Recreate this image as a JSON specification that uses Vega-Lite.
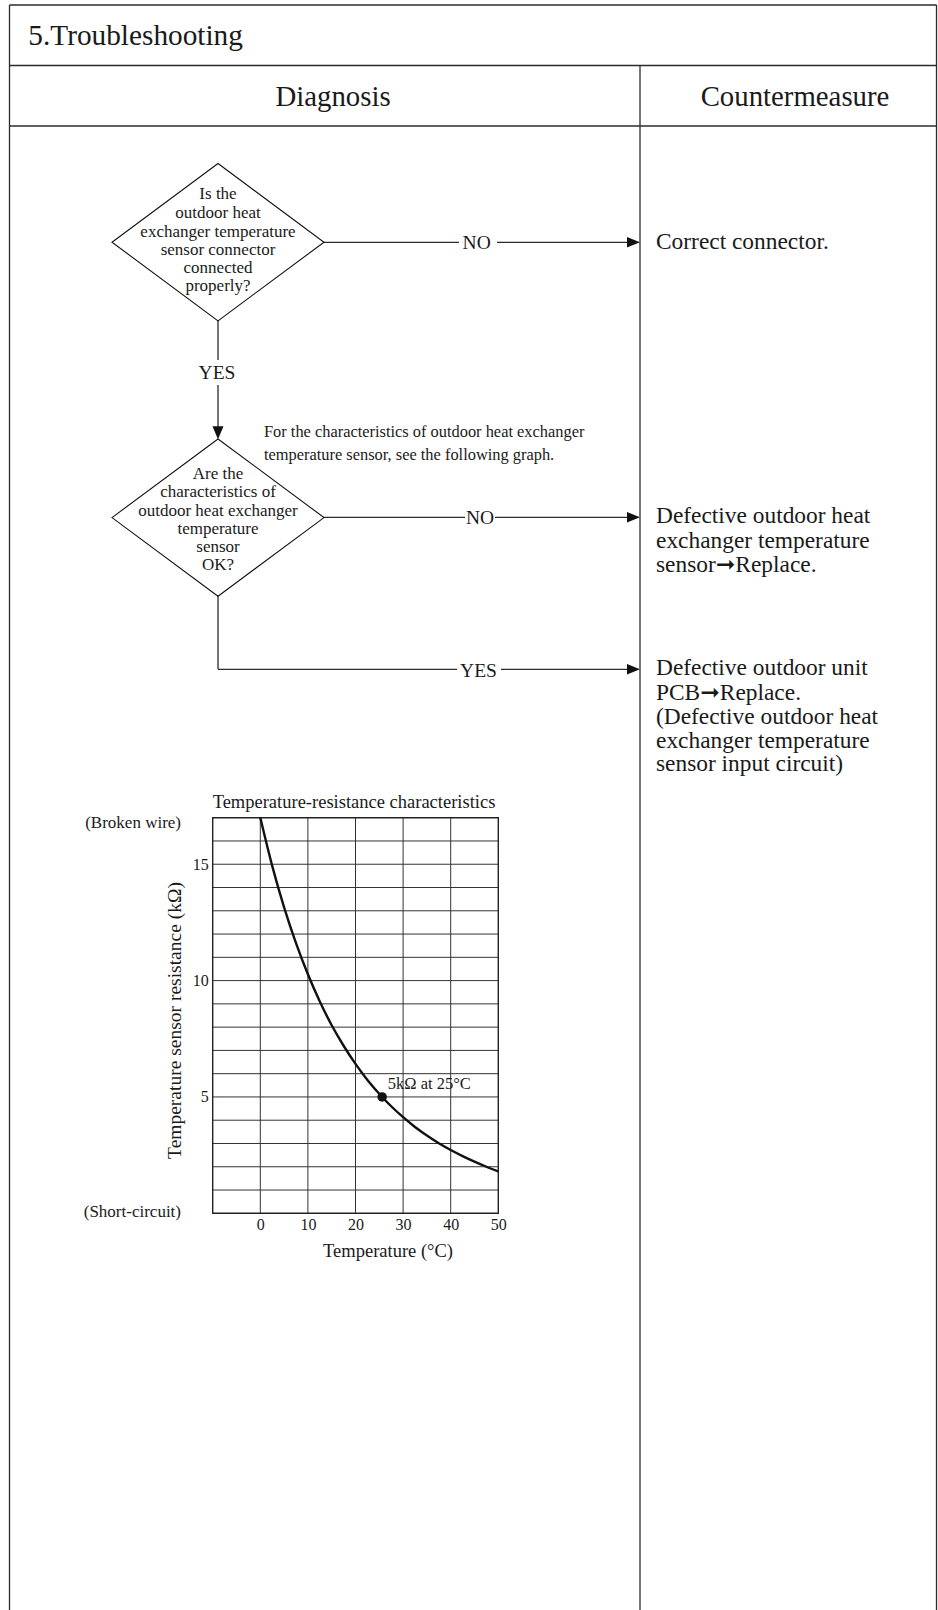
{
  "$schema": "https://vega.github.io/schema/vega-lite/v6.json",
  "width": 938,
  "height": 1610,
  "autosize": "none",
  "padding": 0,
  "background": "white",
  "config": {
    "view": {"stroke": null},
    "font": "Liberation Serif",
    "axis": {"labelFont": "Liberation Serif", "labelFontSize": 16, "labelColor": "#1a1a1a", "titleFont": "Liberation Serif", "titleFontWeight": "normal", "titleColor": "#1a1a1a"}
  },
  "datasets": {
    "rules": [
      {"x": 9.5, "x2": 936.5, "y": 5, "y2": 5},
      {"x": 9.5, "x2": 9.5, "y": 5, "y2": 1610},
      {"x": 936.5, "x2": 936.5, "y": 5, "y2": 1610},
      {"x": 9.5, "x2": 936.5, "y": 65.5, "y2": 65.5},
      {"x": 9.5, "x2": 936.5, "y": 126, "y2": 126},
      {"x": 640, "x2": 640, "y": 65.5, "y2": 1610},
      {"x": 324, "x2": 459, "y": 242.3, "y2": 242.3},
      {"x": 497, "x2": 636, "y": 242.3, "y2": 242.3},
      {"x": 324, "x2": 465, "y": 517.3, "y2": 517.3},
      {"x": 495, "x2": 636, "y": 517.3, "y2": 517.3},
      {"x": 218, "x2": 218, "y": 321, "y2": 360},
      {"x": 218, "x2": 218, "y": 385, "y2": 435},
      {"x": 218, "x2": 218, "y": 596, "y2": 669.3},
      {"x": 218, "x2": 457, "y": 669.3, "y2": 669.3},
      {"x": 501, "x2": 636, "y": 669.3, "y2": 669.3}
    ],
    "diamonds": [{"x": 218, "y": 242.2}, {"x": 218, "y": 517.6}],
    "arrows": [
      {"x": 640, "y": 242.3, "dir": "right"},
      {"x": 640, "y": 517.3, "dir": "right"},
      {"x": 640, "y": 669.3, "dir": "right"},
      {"x": 218, "y": 439.3, "dir": "down"}
    ],
    "headTitle": [{"x": 28.3, "y": 45, "text": "5.Troubleshooting"}],
    "headCols": [
      {"x": 333, "y": 106, "text": "Diagnosis"},
      {"x": 795, "y": 105.5, "text": "Countermeasure"}
    ],
    "diamondText": [
      {"x": 218, "y": 199.3, "text": "Is the"},
      {"x": 218, "y": 218, "text": "outdoor heat"},
      {"x": 218, "y": 236.5, "text": "exchanger temperature"},
      {"x": 218, "y": 254.5, "text": "sensor connector"},
      {"x": 218, "y": 272.5, "text": "connected"},
      {"x": 218, "y": 290.5, "text": "properly?"},
      {"x": 218, "y": 479, "text": "Are the"},
      {"x": 218, "y": 497.3, "text": "characteristics of"},
      {"x": 218, "y": 515.7, "text": "outdoor heat exchanger"},
      {"x": 218, "y": 533.5, "text": "temperature"},
      {"x": 218, "y": 551.7, "text": "sensor"},
      {"x": 218, "y": 570, "text": "OK?"}
    ],
    "note": [
      {"x": 264, "y": 436.7, "text": "For the characteristics of outdoor heat exchanger"},
      {"x": 264, "y": 460, "text": "temperature sensor, see the following graph."}
    ],
    "flowLabels": [
      {"x": 476.7, "y": 249.3, "text": "NO"},
      {"x": 480, "y": 523.5, "text": "NO"},
      {"x": 217, "y": 378.6, "text": "YES"},
      {"x": 478.5, "y": 676.7, "text": "YES"}
    ],
    "answers": [
      {"x": 656, "y": 248.5, "text": "Correct connector."},
      {"x": 656, "y": 523.3, "text": "Defective outdoor heat"},
      {"x": 656, "y": 547.5, "text": "exchanger temperature"},
      {"x": 656, "y": 571.7, "text": "sensor➞Replace."},
      {"x": 656, "y": 675, "text": "Defective outdoor unit"},
      {"x": 656, "y": 699.5, "text": "PCB➞Replace."},
      {"x": 656, "y": 724, "text": "(Defective outdoor heat"},
      {"x": 656, "y": 748, "text": "exchanger temperature"},
      {"x": 656, "y": 771, "text": "sensor input circuit)"}
    ],
    "graphTitle": [{"x": 354, "y": 808.3, "text": "Temperature-resistance characteristics"}],
    "graphSide": [
      {"x": 181, "y": 828.3, "text": "(Broken wire)"},
      {"x": 181, "y": 1216.7, "text": "(Short-circuit)"}
    ],
    "curve": [
      {"t": 0, "r": 17}, {"t": 2.5, "r": 14.93}, {"t": 5, "r": 13.15}, {"t": 7.5, "r": 11.61},
      {"t": 10, "r": 10.27}, {"t": 12.5, "r": 9.1}, {"t": 15, "r": 8.08}, {"t": 17.5, "r": 7.2},
      {"t": 20, "r": 6.42}, {"t": 22.5, "r": 5.73}, {"t": 25.6, "r": 5}, {"t": 27.5, "r": 4.6},
      {"t": 30, "r": 4.13}, {"t": 32.5, "r": 3.71}, {"t": 35, "r": 3.34}, {"t": 37.5, "r": 3.01},
      {"t": 40, "r": 2.72}, {"t": 42.5, "r": 2.46}, {"t": 45, "r": 2.22}, {"t": 47.5, "r": 2.0},
      {"t": 50, "r": 1.8}
    ],
    "vgrid": [{"t": 0}, {"t": 10}, {"t": 20}, {"t": 30}, {"t": 40}],
    "hgrid": [
      {"r": 1}, {"r": 2}, {"r": 3}, {"r": 4}, {"r": 5}, {"r": 6}, {"r": 7}, {"r": 8},
      {"r": 9}, {"r": 10}, {"r": 11}, {"r": 12}, {"r": 13}, {"r": 14}, {"r": 15}, {"r": 16}
    ],
    "marker": [{"t": 25.6, "r": 5, "label": "5kΩ at 25°C"}],
    "box": [{"t0": -10, "t1": 50, "r0": 0, "r1": 17}]
  },
  "layer": [
    {
      "layer": [
        {
          "data": {"name": "rules"},
          "mark": {"type": "rule", "color": "#2b2b2b", "strokeWidth": 1.3},
          "encoding": {
            "x": {"field": "x", "type": "quantitative", "scale": {"domain": [0, 938], "range": [0, 938], "nice": false, "zero": false}, "axis": null},
            "x2": {"field": "x2"},
            "y": {"field": "y", "type": "quantitative", "scale": {"domain": [0, 1610], "range": [0, 1610], "nice": false, "zero": false}, "axis": null},
            "y2": {"field": "y2"}
          }
        },
        {
          "data": {"name": "diamonds"},
          "mark": {"type": "point", "shape": "M-1,0L0,-0.742L1,0L0,0.742Z", "size": 44944, "filled": false, "color": "#111", "strokeWidth": 1.1, "opacity": 1},
          "encoding": {
            "x": {"field": "x", "type": "quantitative", "scale": {"domain": [0, 938], "range": [0, 938], "nice": false, "zero": false}, "axis": null},
            "y": {"field": "y", "type": "quantitative", "scale": {"domain": [0, 1610], "range": [0, 1610], "nice": false, "zero": false}, "axis": null}
          }
        },
        {
          "data": {"name": "arrows"},
          "transform": [{"filter": "datum.dir == 'right'"}],
          "mark": {"type": "point", "shape": "M0,0L-2,-0.8L-2,0.8Z", "size": 169, "filled": true, "color": "#111", "opacity": 1},
          "encoding": {
            "x": {"field": "x", "type": "quantitative", "scale": {"domain": [0, 938], "range": [0, 938], "nice": false, "zero": false}, "axis": null},
            "y": {"field": "y", "type": "quantitative", "scale": {"domain": [0, 1610], "range": [0, 1610], "nice": false, "zero": false}, "axis": null}
          }
        },
        {
          "data": {"name": "arrows"},
          "transform": [{"filter": "datum.dir == 'down'"}],
          "mark": {"type": "point", "shape": "M0,0L-0.85,-2L0.85,-2Z", "size": 169, "filled": true, "color": "#111", "opacity": 1},
          "encoding": {
            "x": {"field": "x", "type": "quantitative", "scale": {"domain": [0, 938], "range": [0, 938], "nice": false, "zero": false}, "axis": null},
            "y": {"field": "y", "type": "quantitative", "scale": {"domain": [0, 1610], "range": [0, 1610], "nice": false, "zero": false}, "axis": null}
          }
        },
        {
          "data": {"name": "headTitle"},
          "mark": {"type": "text", "align": "left", "baseline": "alphabetic", "fontSize": 29.3, "font": "Liberation Serif", "color": "#1a1a1a"},
          "encoding": {
            "x": {"field": "x", "type": "quantitative", "scale": {"domain": [0, 938], "range": [0, 938], "nice": false, "zero": false}, "axis": null},
            "y": {"field": "y", "type": "quantitative", "scale": {"domain": [0, 1610], "range": [0, 1610], "nice": false, "zero": false}, "axis": null},
            "text": {"field": "text"}
          }
        },
        {
          "data": {"name": "headCols"},
          "mark": {"type": "text", "align": "center", "baseline": "alphabetic", "fontSize": 28.8, "font": "Liberation Serif", "color": "#1a1a1a"},
          "encoding": {
            "x": {"field": "x", "type": "quantitative", "scale": {"domain": [0, 938], "range": [0, 938], "nice": false, "zero": false}, "axis": null},
            "y": {"field": "y", "type": "quantitative", "scale": {"domain": [0, 1610], "range": [0, 1610], "nice": false, "zero": false}, "axis": null},
            "text": {"field": "text"}
          }
        },
        {
          "data": {"name": "diamondText"},
          "mark": {"type": "text", "align": "center", "baseline": "alphabetic", "fontSize": 17, "font": "Liberation Serif", "color": "#1a1a1a"},
          "encoding": {
            "x": {"field": "x", "type": "quantitative", "scale": {"domain": [0, 938], "range": [0, 938], "nice": false, "zero": false}, "axis": null},
            "y": {"field": "y", "type": "quantitative", "scale": {"domain": [0, 1610], "range": [0, 1610], "nice": false, "zero": false}, "axis": null},
            "text": {"field": "text"}
          }
        },
        {
          "data": {"name": "note"},
          "mark": {"type": "text", "align": "left", "baseline": "alphabetic", "fontSize": 16.4, "font": "Liberation Serif", "color": "#1a1a1a"},
          "encoding": {
            "x": {"field": "x", "type": "quantitative", "scale": {"domain": [0, 938], "range": [0, 938], "nice": false, "zero": false}, "axis": null},
            "y": {"field": "y", "type": "quantitative", "scale": {"domain": [0, 1610], "range": [0, 1610], "nice": false, "zero": false}, "axis": null},
            "text": {"field": "text"}
          }
        },
        {
          "data": {"name": "flowLabels"},
          "mark": {"type": "text", "align": "center", "baseline": "alphabetic", "fontSize": 19.5, "font": "Liberation Serif", "color": "#1a1a1a"},
          "encoding": {
            "x": {"field": "x", "type": "quantitative", "scale": {"domain": [0, 938], "range": [0, 938], "nice": false, "zero": false}, "axis": null},
            "y": {"field": "y", "type": "quantitative", "scale": {"domain": [0, 1610], "range": [0, 1610], "nice": false, "zero": false}, "axis": null},
            "text": {"field": "text"}
          }
        },
        {
          "data": {"name": "answers"},
          "mark": {"type": "text", "align": "left", "baseline": "alphabetic", "fontSize": 23.4, "font": "Liberation Serif, DejaVu Sans", "color": "#1a1a1a"},
          "encoding": {
            "x": {"field": "x", "type": "quantitative", "scale": {"domain": [0, 938], "range": [0, 938], "nice": false, "zero": false}, "axis": null},
            "y": {"field": "y", "type": "quantitative", "scale": {"domain": [0, 1610], "range": [0, 1610], "nice": false, "zero": false}, "axis": null},
            "text": {"field": "text"}
          }
        },
        {
          "data": {"name": "graphTitle"},
          "mark": {"type": "text", "align": "center", "baseline": "alphabetic", "fontSize": 18.5, "font": "Liberation Serif", "color": "#1a1a1a"},
          "encoding": {
            "x": {"field": "x", "type": "quantitative", "scale": {"domain": [0, 938], "range": [0, 938], "nice": false, "zero": false}, "axis": null},
            "y": {"field": "y", "type": "quantitative", "scale": {"domain": [0, 1610], "range": [0, 1610], "nice": false, "zero": false}, "axis": null},
            "text": {"field": "text"}
          }
        },
        {
          "data": {"name": "graphSide"},
          "mark": {"type": "text", "align": "right", "baseline": "alphabetic", "fontSize": 17, "font": "Liberation Serif", "color": "#1a1a1a"},
          "encoding": {
            "x": {"field": "x", "type": "quantitative", "scale": {"domain": [0, 938], "range": [0, 938], "nice": false, "zero": false}, "axis": null},
            "y": {"field": "y", "type": "quantitative", "scale": {"domain": [0, 1610], "range": [0, 1610], "nice": false, "zero": false}, "axis": null},
            "text": {"field": "text"}
          }
        }
      ]
    },
    {
      "layer": [
        {
          "data": {"name": "hgrid"},
          "mark": {"type": "rule", "color": "#333", "strokeWidth": 1},
          "encoding": {
            "y": {"field": "r", "type": "quantitative", "scale": {"domain": [0, 17], "range": [1213.3, 817.7], "nice": false, "zero": false}},
            "x": {"datum": -10, "type": "quantitative", "scale": {"domain": [-10, 50], "range": [212.7, 498.3], "nice": false, "zero": false}},
            "x2": {"datum": 50}
          }
        },
        {
          "data": {"name": "vgrid"},
          "mark": {"type": "rule", "color": "#333", "strokeWidth": 1},
          "encoding": {
            "x": {"field": "t", "type": "quantitative", "scale": {"domain": [-10, 50], "range": [212.7, 498.3], "nice": false, "zero": false}},
            "y": {"datum": 0, "type": "quantitative", "scale": {"domain": [0, 17], "range": [1213.3, 817.7], "nice": false, "zero": false}},
            "y2": {"datum": 17}
          }
        },
        {
          "data": {"name": "box"},
          "mark": {"type": "rect", "filled": false, "color": "#222", "strokeWidth": 1.4},
          "encoding": {
            "x": {"field": "t0", "type": "quantitative", "scale": {"domain": [-10, 50], "range": [212.7, 498.3], "nice": false, "zero": false}},
            "x2": {"field": "t1"},
            "y": {"field": "r0", "type": "quantitative", "scale": {"domain": [0, 17], "range": [1213.3, 817.7], "nice": false, "zero": false}},
            "y2": {"field": "r1"}
          }
        },
        {
          "data": {"name": "curve"},
          "mark": {"type": "line", "interpolate": "monotone", "color": "#111", "strokeWidth": 2.4},
          "encoding": {
            "x": {
              "field": "t", "type": "quantitative",
              "scale": {"domain": [-10, 50], "range": [212.7, 498.3], "nice": false, "zero": false},
              "axis": {
                "orient": "bottom", "offset": -396.7, "values": [0, 10, 20, 30, 40, 50], "format": "d",
                "ticks": false, "tickSize": 0, "domain": false, "grid": false,
                "labelFlush": false, "labelOverlap": false, "labelPadding": 3.5,
                "labelFont": "Liberation Serif", "labelFontSize": 16, "labelColor": "#1a1a1a",
                "title": "Temperature (°C)", "titleFont": "Liberation Serif", "titleFontSize": 18.5,
                "titleFontWeight": "normal", "titleColor": "#1a1a1a",
                "titleX": 387.5, "titleY": 43.4, "titleAlign": "center", "titleBaseline": "alphabetic"
              }
            },
            "y": {
              "field": "r", "type": "quantitative",
              "scale": {"domain": [0, 17], "range": [1213.3, 817.7], "nice": false, "zero": false},
              "axis": {
                "orient": "left", "offset": -212.7, "values": [5, 10, 15], "format": "d",
                "ticks": false, "tickSize": 0, "domain": false, "grid": false,
                "labelOverlap": false, "labelPadding": 4.5,
                "labelFont": "Liberation Serif", "labelFontSize": 16, "labelColor": "#1a1a1a",
                "title": "Temperature sensor resistance (kΩ)", "titleFont": "Liberation Serif", "titleFontSize": 19.5,
                "titleFontWeight": "normal", "titleColor": "#1a1a1a", "titleAngle": 270,
                "titleX": -32.7, "titleY": 1020, "titleAlign": "center", "titleBaseline": "alphabetic"
              }
            }
          }
        },
        {
          "data": {"name": "marker"},
          "mark": {"type": "circle", "size": 90, "color": "#111", "opacity": 1},
          "encoding": {
            "x": {"field": "t", "type": "quantitative", "scale": {"domain": [-10, 50], "range": [212.7, 498.3], "nice": false, "zero": false}},
            "y": {"field": "r", "type": "quantitative", "scale": {"domain": [0, 17], "range": [1213.3, 817.7], "nice": false, "zero": false}}
          }
        },
        {
          "data": {"name": "marker"},
          "mark": {"type": "text", "align": "left", "baseline": "alphabetic", "dx": 5.6, "dy": -8, "fontSize": 16.5, "font": "Liberation Serif", "color": "#1a1a1a"},
          "encoding": {
            "x": {"field": "t", "type": "quantitative", "scale": {"domain": [-10, 50], "range": [212.7, 498.3], "nice": false, "zero": false}},
            "y": {"field": "r", "type": "quantitative", "scale": {"domain": [0, 17], "range": [1213.3, 817.7], "nice": false, "zero": false}},
            "text": {"field": "label"}
          }
        }
      ]
    }
  ],
  "resolve": {"scale": {"x": "independent", "y": "independent"}}
}
